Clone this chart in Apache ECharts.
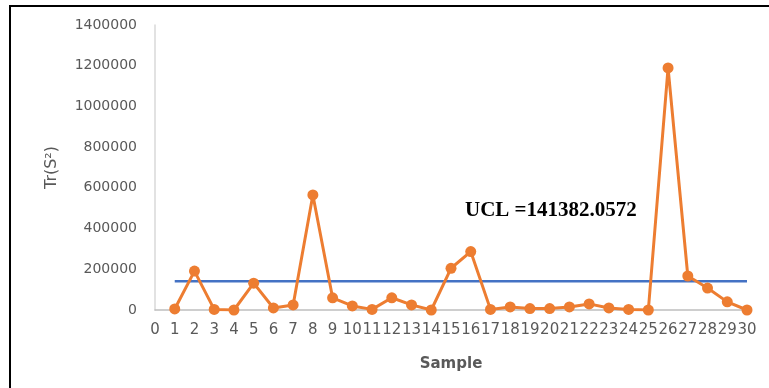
<!DOCTYPE html>
<html>
<head>
<meta charset="utf-8">
<script src="https://cdn.jsdelivr.net/npm/echarts@6/dist/echarts.min.js"></script>
<style>
  html, body { margin: 0; padding: 0; background: #fff; }
  #frame { position: absolute; left: 9px; top: 5px; width: 760px; height: 383px;
           border-left: 2.5px solid #000; border-top: 2.5px solid #000; box-sizing: border-box; }
  #chart { position: absolute; left: 0; top: 0; width: 769px; height: 388px; }
</style>
</head>
<body>
<div id="frame"></div>
<div id="chart"></div>
<script>
// sample numbers and Tr(S^2) readings
const samples = [1, 2, 3, 4, 5, 6, 7, 8, 9, 10, 11, 12, 13, 14, 15,
                 16, 17, 18, 19, 20, 21, 22, 23, 24, 25, 26, 27, 28, 29, 30]
const trS2 = [5000, 191000, 3000, 0, 132000, 10000, 25000, 565000, 60000, 20000,
              3000, 60000, 25000, 0, 205000, 287000, 3000, 15000, 7000, 7000,
              15000, 30000, 10000, 3000, 0, 1189000, 167000, 108000, 40000, 0]
const ucl = 141382.0572

const font = 'DejaVu Sans'
const grey = '#595959'

const chart = echarts.init(document.getElementById('chart'), null, { renderer: 'canvas' })

const option = {
  animation: false,
  grid: { left: 155, right: 22, top: 25, bottom: 78 },
  xAxis: {
    type: 'value',
    min: 0, max: 30, interval: 1,
    name: 'Sample', nameLocation: 'middle', nameGap: 47,
    nameTextStyle: { fontFamily: font, fontSize: 15, fontWeight: 'bold', color: grey },
    axisLine: { lineStyle: { color: '#bfbfbf', width: 1.5 } },
    axisTick: { show: false },
    splitLine: { show: false },
    axisLabel: { fontFamily: font, fontSize: 15, color: grey, margin: 13, hideOverlap: false }
  },
  yAxis: {
    type: 'value',
    min: 0, max: 1400000, interval: 200000,
    name: 'Tr(S²)', nameLocation: 'middle', nameGap: 95,
    nameTextStyle: { fontFamily: font, fontSize: 16, color: grey },
    axisLine: { show: true, lineStyle: { color: '#d9d9d9', width: 1.5 } },
    axisTick: { show: false },
    splitLine: { show: false },
    axisLabel: { fontFamily: font, fontSize: 14, color: grey, margin: 18, formatter: v => String(v) }
  },
  series: [
    {
      type: 'line',
      data: samples.map(s => [s, ucl]),
      symbol: 'none',
      lineStyle: { color: '#4472C4', width: 2.5 },
      z: 1
    },
    {
      type: 'line',
      data: samples.map((s, i) => [s, trS2[i]]),
      symbol: 'circle', symbolSize: 11,
      itemStyle: { color: '#ED7D31' },
      lineStyle: { color: '#ED7D31', width: 3 },
      z: 2
    }
  ],
  graphic: [{
    type: 'text', left: 465, top: 200,
    style: { text: 'UCL =141382.0572', font: 'bold 21px "Liberation Serif"', fill: '#000' }
  }]
}

chart.setOption(option)
</script>
</body>
</html>
